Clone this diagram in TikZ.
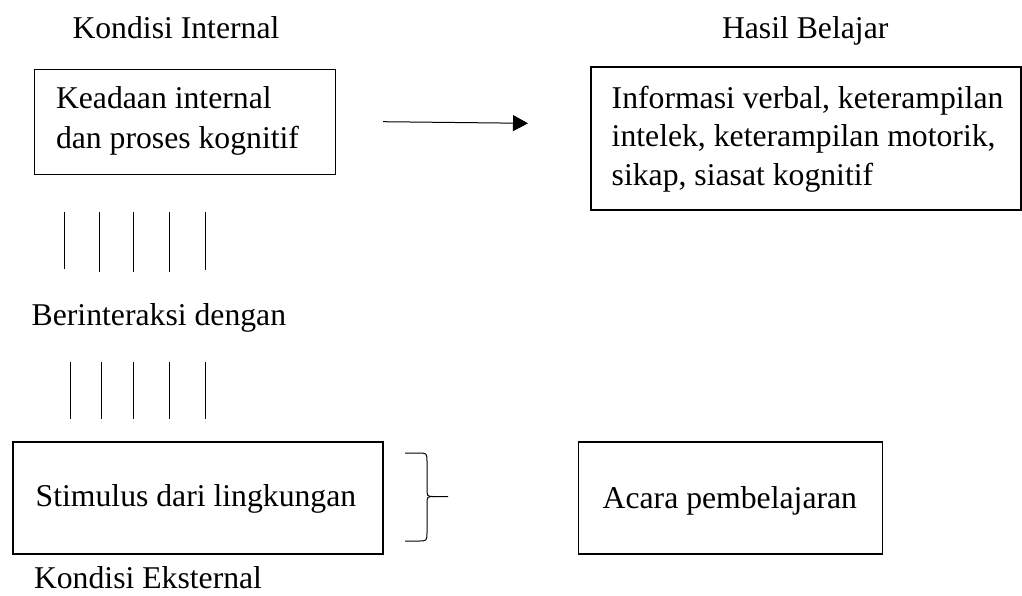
\documentclass[tikz,border=0pt]{standalone}
\usepackage{fontspec}
\setmainfont{Liberation Serif}
\usetikzlibrary{arrows.meta}
\begin{document}
\begin{tikzpicture}[x=1pt,y=-1pt,
  txt/.style={inner sep=0pt,outer sep=0pt,anchor=base west,font=\fontsize{31.7}{39}\selectfont},
  boxshape/.style={draw,line width=1.4pt,inner sep=0pt,outer sep=0pt},
  bar/.style={line width=1pt},
  conn/.style={line width=1pt,-{Triangle[length=15pt,width=16pt]}}]
\useasboundingbox (0,0) rectangle (1022,595);
% boxes
\node[boxshape,minimum width=301pt,minimum height=105pt,anchor=north west] (b1) at (34.6,69.3) {};
\node[boxshape,minimum width=430pt,minimum height=143pt,anchor=north west] (b2) at (591,67) {};
\node[boxshape,minimum width=370pt,minimum height=112pt,anchor=north west] (b3) at (13,442) {};
\node[boxshape,minimum width=304pt,minimum height=112pt,anchor=north west] (b4) at (578.5,442) {};
% texts
\node[txt] (t1) at (72.5,38) {Kondisi Internal};
\node[txt] (t2) at (722,38) {Hasil Belajar};
\node[txt] (k1) at (56,108) {Keadaan internal};
\node[txt] (k2) at (56,148) {dan proses kognitif};
\node[txt] (h1) at (611.7,108) {Informasi verbal, keterampilan};
\node[txt] (h2) at (611.7,146.7) {intelek, keterampilan motorik,};
\node[txt] (h3) at (611.7,185) {sikap, siasat kognitif};
\node[txt] (bi) at (31.7,325) {Berinteraksi dengan};
\node[txt] (st) at (35.7,506.7) {Stimulus dari lingkungan};
\node[txt] (ac) at (602.7,508.3) {Acara pembelajaran};
\node[txt] (ke) at (34,588) {Kondisi Eksternal};
% arrow
\coordinate (as) at (383,121.7);
\coordinate (ae) at (528,123.3);
\draw[conn] (as) -- (ae);
% bars
\foreach \x/\b in {64.6/269, 99/271.5, 133/271.5, 169/271.5, 205/270}
  \draw[bar] (\x,212) -- (\x,\b);
\foreach \x in {70.7,101,133,169,205}
  \draw[bar] (\x,361.7) -- (\x,419.3);
% brace
\coordinate (br1) at (405,453);
\coordinate (br2) at (405,541);
\coordinate (brt) at (448,496.5);
\draw[line width=1pt] (br1) -- (418,453) .. controls (427,453) .. (427,462) -- (427,488)
  .. controls (427,496.5) .. (434,496.5) -- (brt);
\draw[line width=1pt] (br2) -- (418,541) .. controls (427,541) .. (427,532) -- (427,505)
  .. controls (427,496.5) .. (434,496.5);
\end{tikzpicture}
\end{document}
